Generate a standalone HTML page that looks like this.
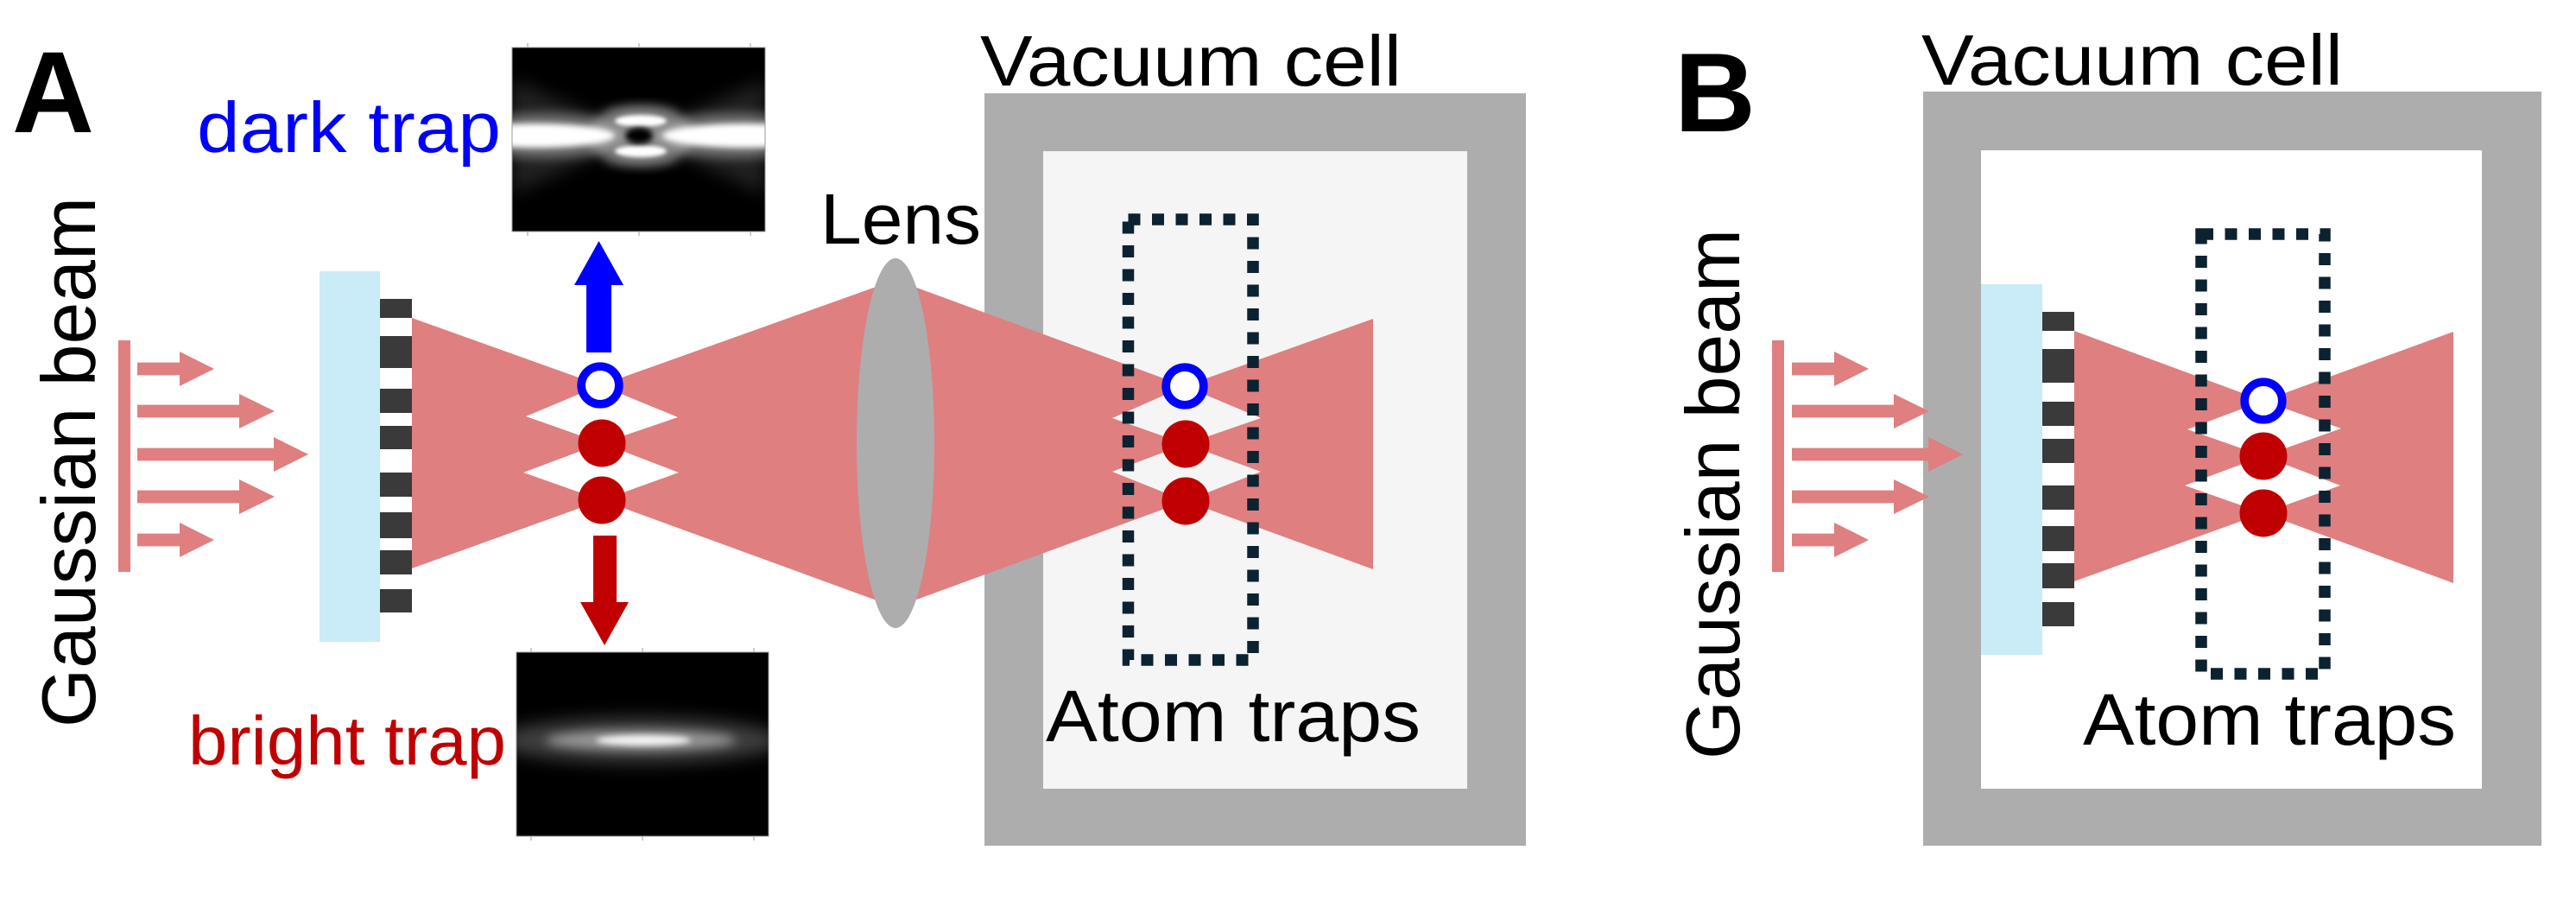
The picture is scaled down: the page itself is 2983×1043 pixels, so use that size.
<!DOCTYPE html>
<html>
<head>
<meta charset="utf-8">
<style>
  html, body { margin:0; padding:0; background:#ffffff; }
  svg { display:block; }
  text { font-family: "Liberation Sans", "DejaVu Sans", sans-serif; }
</style>
</head>
<body>
<svg width="2983" height="1043" viewBox="0 0 2983 1043" xmlns="http://www.w3.org/2000/svg">
  <defs>
    <filter id="b2" x="-50%" y="-50%" width="200%" height="200%"><feGaussianBlur stdDeviation="2.5"/></filter>
    <filter id="b3" x="-50%" y="-50%" width="200%" height="200%"><feGaussianBlur stdDeviation="3.5"/></filter>
    <filter id="b6" x="-50%" y="-50%" width="200%" height="200%"><feGaussianBlur stdDeviation="6"/></filter>
    <filter id="b10" x="-50%" y="-50%" width="200%" height="200%"><feGaussianBlur stdDeviation="10"/></filter>
    <clipPath id="clipD"><rect x="593" y="55" width="293" height="213"/></clipPath>
    <clipPath id="clipB"><rect x="598" y="755" width="292" height="213"/></clipPath>
  </defs>

  <rect x="0" y="0" width="2983" height="1043" fill="#ffffff"/>

  <!-- ================= PANEL A ================= -->
  <text x="14" y="153" font-size="134" font-weight="bold" fill="#000" textLength="95" lengthAdjust="spacingAndGlyphs">A</text>

  <text transform="translate(110,842) rotate(-90)" x="0" y="0" font-size="88" fill="#000" textLength="614" lengthAdjust="spacingAndGlyphs">Gaussian beam</text>

  <g fill="#df7f80">
    <rect x="137" y="394" width="14" height="268"/>
    <polygon points="159,419.6 208,419.6 208,407 248,427 208,447 208,434.4 159,434.4"/>
    <polygon points="159,468.6 277,468.6 277,456 318,476 277,496 277,483.4 159,483.4"/>
    <polygon points="159,518.6 317,518.6 317,506 357,526 317,546 317,533.4 159,533.4"/>
    <polygon points="159,567.6 277,567.6 277,555 318,575 277,595 277,582.4 159,582.4"/>
    <polygon points="159,617.6 208,617.6 208,605 248,625 208,645 208,632.4 159,632.4"/>
  </g>

  <rect x="370" y="314" width="70" height="429" fill="#c9ecf8"/>
  <g fill="#3a3a3a">
    <rect x="440" y="346" width="37" height="22"/>
    <rect x="440" y="389" width="37" height="37"/>
    <rect x="440" y="450" width="37" height="28"/>
    <rect x="440" y="493" width="37" height="27"/>
    <rect x="440" y="547" width="37" height="28"/>
    <rect x="440" y="593" width="37" height="30"/>
    <rect x="440" y="637" width="37" height="28"/>
    <rect x="440" y="682" width="37" height="27"/>
  </g>

  <rect x="1140" y="108" width="627" height="871" fill="#adadad"/>
  <rect x="1208" y="175" width="491" height="738" fill="#f5f5f5"/>

  <g fill="#df7f80">
    <polygon points="477,368 695,446 609,482 697,513 606,547 697,579 477,658"/>
    <polygon points="695,446 1037,324 1372,447 1288,484 1373,514 1288,546 1373,580 1037,703 697,579 786,547 697,513 785,483"/>
    <polygon points="1372,447 1590,369 1590,659 1373,580 1460,546 1373,514 1460,484"/>
  </g>

  <ellipse cx="1037" cy="513" rx="45" ry="214" fill="#adadad"/>

  <circle cx="695" cy="446" r="21.8" fill="#ffffff" stroke="#0000ff" stroke-width="9.7"/>
  <circle cx="697" cy="513" r="27.5" fill="#c00000"/>
  <circle cx="697" cy="579" r="27.5" fill="#c00000"/>

  <circle cx="1372" cy="447" r="21.8" fill="#ffffff" stroke="#0000ff" stroke-width="9.7"/>
  <circle cx="1373" cy="514" r="27.5" fill="#c00000"/>
  <circle cx="1373" cy="580" r="27.5" fill="#c00000"/>

  <rect x="1306.5" y="254" width="144.5" height="510" fill="none" stroke="#0b2231" stroke-width="13.5" stroke-dasharray="14 13.5"/>

  <polygon points="679,408 679,330 665,330 693.5,279 722,330 708,330 708,408" fill="#0000ff"/>
  <polygon points="687,620 714,620 714,697 728,697 700,747 672,697 687,697" fill="#c00000"/>

  <g clip-path="url(#clipD)">
    <rect x="593" y="55" width="293" height="213" fill="#000"/>
    <polygon points="593,92 740,157 593,225" fill="#ffffff" opacity="0.13" filter="url(#b10)"/>
    <polygon points="886,92 740,157 886,225" fill="#ffffff" opacity="0.13" filter="url(#b10)"/>
    <ellipse cx="742" cy="157" rx="62" ry="34" fill="#ffffff" opacity="0.3" filter="url(#b6)"/>
    <ellipse cx="630" cy="157" rx="110" ry="26" fill="#ffffff" opacity="0.35" filter="url(#b6)"/>
    <ellipse cx="852" cy="157" rx="110" ry="26" fill="#ffffff" opacity="0.35" filter="url(#b6)"/>
    <ellipse cx="620" cy="157" rx="92" ry="14" fill="#ffffff" filter="url(#b3)"/>
    <ellipse cx="862" cy="157" rx="95" ry="14" fill="#ffffff" filter="url(#b3)"/>
    <ellipse cx="742" cy="140" rx="30" ry="7" fill="#ffffff" filter="url(#b2)"/>
    <ellipse cx="742" cy="175" rx="30" ry="7" fill="#ffffff" filter="url(#b2)"/>
    <ellipse cx="742" cy="131" rx="44" ry="9" fill="#ffffff" opacity="0.3" filter="url(#b6)"/>
    <ellipse cx="742" cy="184" rx="44" ry="9" fill="#ffffff" opacity="0.3" filter="url(#b6)"/>
    <ellipse cx="740" cy="157" rx="16" ry="9" fill="#000" filter="url(#b3)"/>
  </g>
  <rect x="593" y="55" width="293" height="213" fill="none" stroke="#999" stroke-width="1"/>
  <g stroke="#bbb" stroke-width="1.5">
    <line x1="611" y1="50" x2="611" y2="55"/><line x1="740" y1="50" x2="740" y2="55"/><line x1="869" y1="50" x2="869" y2="55"/>
    <line x1="611" y1="268" x2="611" y2="273"/><line x1="740" y1="268" x2="740" y2="273"/><line x1="869" y1="268" x2="869" y2="273"/>
  </g>

  <g clip-path="url(#clipB)">
    <rect x="598" y="755" width="292" height="213" fill="#000"/>
    <ellipse cx="740" cy="857" rx="165" ry="26" fill="#ffffff" opacity="0.25" filter="url(#b10)"/>
    <ellipse cx="742" cy="857" rx="110" ry="12" fill="#ffffff" opacity="0.45" filter="url(#b6)"/>
    <ellipse cx="745" cy="857" rx="55" ry="6" fill="#ffffff" opacity="0.9" filter="url(#b3)"/>
  </g>
  <rect x="598" y="755" width="292" height="213" fill="none" stroke="#999" stroke-width="1"/>
  <g stroke="#bbb" stroke-width="1.5">
    <line x1="615" y1="750" x2="615" y2="755"/><line x1="744" y1="750" x2="744" y2="755"/><line x1="873" y1="750" x2="873" y2="755"/>
    <line x1="615" y1="968" x2="615" y2="973"/><line x1="744" y1="968" x2="744" y2="973"/><line x1="873" y1="968" x2="873" y2="973"/>
  </g>

  <text x="228" y="176" font-size="83" fill="#0000ff" textLength="352" lengthAdjust="spacingAndGlyphs">dark trap</text>
  <text x="218" y="885" font-size="80" fill="#c00000" textLength="368" lengthAdjust="spacingAndGlyphs">bright trap</text>
  <text x="1135" y="99" font-size="83" fill="#000" textLength="488" lengthAdjust="spacingAndGlyphs">Vacuum cell</text>
  <text x="950" y="282" font-size="83" fill="#000" textLength="186" lengthAdjust="spacingAndGlyphs">Lens</text>
  <text x="1211" y="858" font-size="84" fill="#000" textLength="434" lengthAdjust="spacingAndGlyphs">Atom traps</text>

  <!-- ================= PANEL B ================= -->
  <text x="1939" y="152" font-size="130" font-weight="bold" fill="#000">B</text>
  <text transform="translate(2014,879) rotate(-90)" x="0" y="0" font-size="88" fill="#000" textLength="614" lengthAdjust="spacingAndGlyphs">Gaussian beam</text>
  <text x="2225" y="98" font-size="83" fill="#000" textLength="488" lengthAdjust="spacingAndGlyphs">Vacuum cell</text>

  <rect x="2227" y="106" width="716" height="873" fill="#adadad"/>
  <rect x="2294" y="174" width="580" height="739" fill="#ffffff"/>

  <g fill="#df7f80">
    <rect x="2052" y="394" width="14" height="268"/>
    <polygon points="2075,419.6 2124,419.6 2124,407 2164,427 2124,447 2124,434.4 2075,434.4"/>
    <polygon points="2075,468.6 2193,468.6 2193,456 2234,476 2193,496 2193,483.4 2075,483.4"/>
    <polygon points="2075,518.6 2233,518.6 2233,506 2273,526 2233,546 2233,533.4 2075,533.4"/>
    <polygon points="2075,567.6 2193,567.6 2193,555 2234,575 2193,595 2193,582.4 2075,582.4"/>
    <polygon points="2075,617.6 2124,617.6 2124,605 2164,625 2124,645 2124,632.4 2075,632.4"/>
  </g>

  <rect x="2294" y="329" width="71" height="429" fill="#c9ecf8"/>
  <g fill="#3a3a3a">
    <rect x="2365" y="361" width="37" height="22"/>
    <rect x="2365" y="404" width="37" height="39"/>
    <rect x="2365" y="465" width="37" height="28"/>
    <rect x="2365" y="508" width="37" height="28"/>
    <rect x="2365" y="562" width="37" height="28"/>
    <rect x="2365" y="609" width="37" height="29"/>
    <rect x="2365" y="652" width="37" height="29"/>
    <rect x="2365" y="697" width="37" height="28"/>
  </g>

  <g fill="#df7f80">
    <polygon points="2402,383 2621,464 2533,497 2621,528 2530,562 2621,594 2402,673"/>
    <polygon points="2621,464 2841,384 2841,675 2621,594 2710,562 2621,528 2711,496"/>
  </g>

  <circle cx="2621" cy="464" r="21.8" fill="#ffffff" stroke="#0000ff" stroke-width="9.7"/>
  <circle cx="2621" cy="528" r="27.5" fill="#c00000"/>
  <circle cx="2621" cy="594" r="27.5" fill="#c00000"/>

  <rect x="2549" y="271" width="143" height="509" fill="none" stroke="#0b2231" stroke-width="13.5" stroke-dasharray="14 13.5"/>

  <text x="2412" y="862" font-size="84" fill="#000" textLength="432" lengthAdjust="spacingAndGlyphs">Atom traps</text>
</svg>
</body>
</html>
